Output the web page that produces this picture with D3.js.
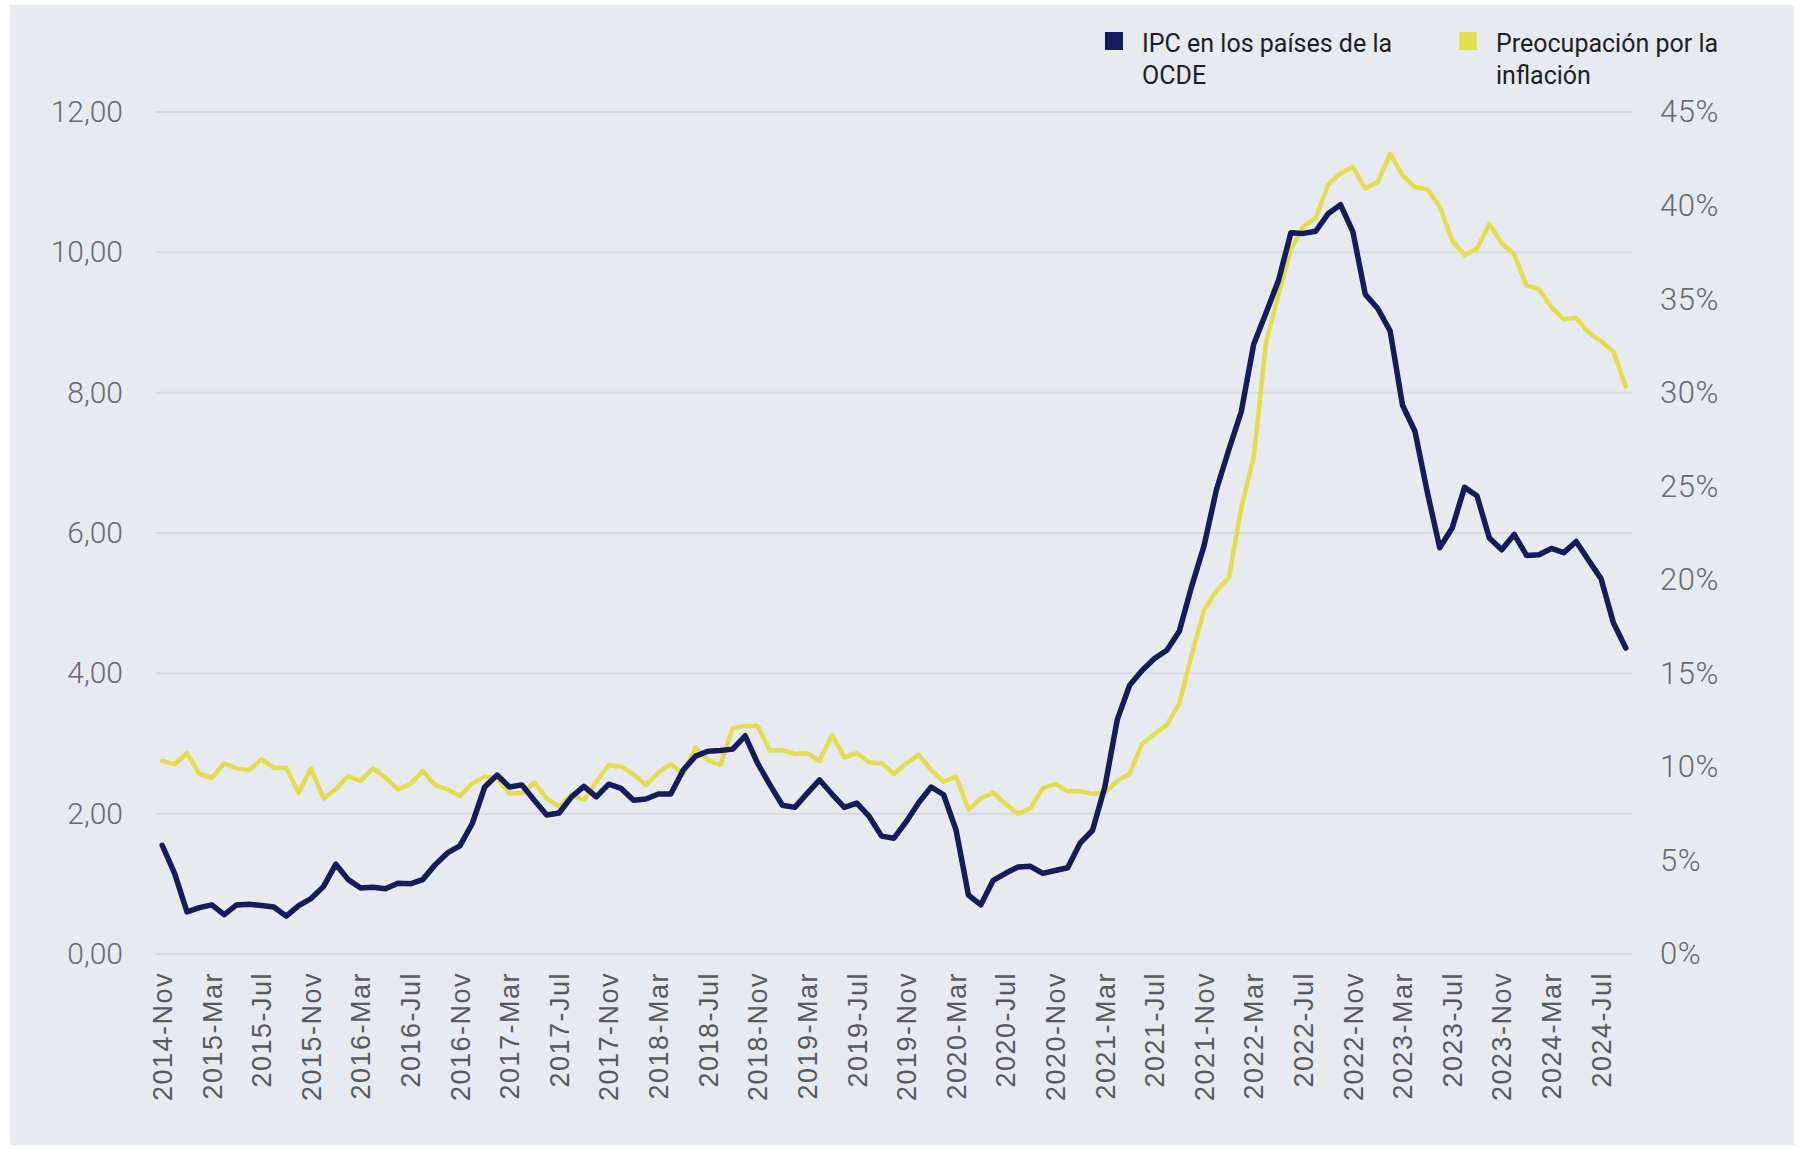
<!DOCTYPE html>
<html>
<head>
<meta charset="utf-8">
<script src="https://cdn.jsdelivr.net/npm/d3@7"></script>
<style>
  body { margin: 0; background: #fff; }
  svg { display: block; }
</style>
</head>
<body>
<div id="chart"></div>
<script>
const width = 1808;
const height = 1149;

// months from 2014-Nov to 2024-Sep
const monthNames = ["Jan", "Feb", "Mar", "Apr", "May", "Jun", "Jul", "Aug", "Sep", "Oct", "Nov", "Dec"];
const months = [];
for (let k = 0; k < 119; k++) {
    const m = (10 + k) % 12;
    const y = 2014 + Math.floor((10 + k) / 12);
    months.push(y + "-" + monthNames[m]);
}

const tickLabels = [
    "2014-Nov", "2015-Mar", "2015-Jul", "2015-Nov", "2016-Mar", "2016-Jul",
    "2016-Nov", "2017-Mar", "2017-Jul", "2017-Nov", "2018-Mar", "2018-Jul",
    "2018-Nov", "2019-Mar", "2019-Jul", "2019-Nov", "2020-Mar", "2020-Jul",
    "2020-Nov", "2021-Mar", "2021-Jul", "2021-Nov", "2022-Mar", "2022-Jul",
    "2022-Nov", "2023-Mar", "2023-Jul", "2023-Nov", "2024-Mar", "2024-Jul"
];

// IPC en los países de la OCDE (left axis)
const ipc = [
    1.55, 1.15, 0.60, 0.66, 0.70, 0.56, 0.70, 0.71, 0.69, 0.67,
    0.54, 0.69, 0.79, 0.96, 1.28, 1.06, 0.94, 0.95, 0.93, 1.01,
    1.00, 1.06, 1.27, 1.44, 1.54, 1.86, 2.38, 2.55, 2.38, 2.41,
    2.19, 1.98, 2.01, 2.24, 2.39, 2.24, 2.42, 2.36, 2.19, 2.21,
    2.28, 2.28, 2.62, 2.82, 2.89, 2.90, 2.92, 3.11, 2.72, 2.41,
    2.12, 2.09, 2.29, 2.48, 2.28, 2.09, 2.15, 1.96, 1.68, 1.65,
    1.89, 2.16, 2.38, 2.27, 1.77, 0.84, 0.70, 1.05, 1.15, 1.24,
    1.25, 1.15, 1.19, 1.23, 1.58, 1.76, 2.38, 3.34, 3.83, 4.04,
    4.21, 4.33, 4.60, 5.24, 5.82, 6.62, 7.19, 7.73, 8.69, 9.14,
    9.60, 10.28, 10.27, 10.30, 10.55, 10.68, 10.29, 9.40, 9.20, 8.88,
    7.82, 7.45, 6.58, 5.79, 6.07, 6.65, 6.53, 5.93, 5.76, 5.98,
    5.68, 5.69, 5.78, 5.72, 5.88, 5.61, 5.35, 4.72, 4.36
];

// Preocupación por la inflación, % (right axis)
const preocupacion = [
    10.32, 10.14, 10.73, 9.62, 9.42, 10.19, 9.92, 9.83, 10.40, 9.96,
    9.96, 8.62, 9.92, 8.32, 8.80, 9.51, 9.25, 9.92, 9.42, 8.80,
    9.07, 9.78, 9.03, 8.80, 8.44, 9.12, 9.48, 9.39, 8.59, 8.59,
    9.16, 8.32, 7.87, 8.50, 8.23, 9.21, 10.10, 10.01, 9.60, 9.03,
    9.69, 10.15, 9.62, 11.05, 10.37, 10.10, 12.06, 12.19, 12.19, 10.87,
    10.90, 10.69, 10.73, 10.33, 11.70, 10.51, 10.73, 10.25, 10.19, 9.62,
    10.19, 10.64, 9.83, 9.21, 9.48, 7.73, 8.32, 8.62, 8.02, 7.48,
    7.79, 8.86, 9.09, 8.70, 8.70, 8.56, 8.60, 9.25, 9.63, 11.24,
    11.75, 12.26, 13.38, 16.00, 18.38, 19.42, 20.12, 23.85, 26.56, 32.70,
    35.25, 37.67, 38.86, 39.35, 41.10, 41.73, 42.07, 40.91, 41.26, 42.77,
    41.61, 40.98, 40.87, 39.94, 38.13, 37.35, 37.70, 39.02, 37.97, 37.39,
    35.72, 35.54, 34.56, 33.92, 33.99, 33.22, 32.76, 32.18, 30.33
];

const leftTicks = [0, 2, 4, 6, 8, 10, 12];
const rightTicks = [0, 5, 10, 15, 20, 25, 30, 35, 40, 45];

const seriesNames = [["IPC en los países de la", "OCDE"], ["Preocupación por la", "inflación"]];
const seriesColors = ["#141c5b", "#e3dc50"];

const plotLeft = 156, plotRight = 1632, plotTop = 112, plotBottom = 954;

const svg = d3.select("#chart")
    .append("svg")
    .attr("width", width)
    .attr("height", height);

svg.append("rect")
    .attr("x", 10).attr("y", 5)
    .attr("width", 1784).attr("height", 1140)
    .attr("fill", "#e7eaef");

const x = d3.scaleBand().domain(months).range([plotLeft, plotRight]).padding(0);
const yLeft = d3.scaleLinear().domain([0, 12]).range([plotBottom, plotTop]);
const yRight = d3.scaleLinear().domain([0, 45]).range([plotBottom, plotTop]);

const cx = d => x(d) + x.bandwidth() / 2;

// gridlines
svg.append("g")
    .selectAll("line")
    .data(leftTicks)
    .enter()
    .append("line")
    .attr("x1", plotLeft).attr("x2", plotRight)
    .attr("y1", d => yLeft(d)).attr("y2", d => yLeft(d))
    .attr("stroke", "#d8d9dc")
    .attr("stroke-width", 2);

const numFont = "Roboto, sans-serif";

// left axis
const leftAxis = svg.append("g")
    .attr("transform", `translate(${plotLeft - 33},0)`)
    .call(d3.axisLeft(yLeft).tickValues(leftTicks).tickSize(0).tickPadding(0)
        .tickFormat(d => d3.format(".2f")(d).replace(".", ",")));
leftAxis.select(".domain").remove();
leftAxis.selectAll("text")
    .attr("fill", "#6a6a6a")
    .attr("font-family", numFont)
    .attr("font-weight", 300)
    .attr("font-size", 30);

// right axis
const rightAxis = svg.append("g")
    .attr("transform", `translate(${plotRight + 28},0)`)
    .call(d3.axisRight(yRight).tickValues(rightTicks).tickSize(0).tickPadding(0)
        .tickFormat(d => d + "%"));
rightAxis.select(".domain").remove();
rightAxis.selectAll("text")
    .attr("fill", "#6a6a6a")
    .attr("font-family", numFont)
    .attr("font-weight", 300)
    .attr("font-size", 31)
    .attr("letter-spacing", 0.5);

// x axis labels
const xAxis = svg.append("g")
    .attr("transform", `translate(0,${plotBottom})`)
    .call(d3.axisBottom(x).tickValues(tickLabels).tickSize(0).tickPadding(0));
xAxis.select(".domain").remove();
xAxis.selectAll("text")
    .attr("fill", "#5a5a5a")
    .attr("font-family", "'Liberation Sans', Arial, sans-serif")
    .attr("font-size", 27)
    .attr("letter-spacing", 1.5)
    .attr("text-anchor", "end")
    .attr("transform", "rotate(-90)")
    .attr("x", -18)
    .attr("y", 0)
    .attr("dy", "0.36em");

// lines
const ipcLine = d3.line()
    .x((d, i) => cx(months[i]))
    .y(d => yLeft(d));

const preLine = d3.line()
    .x((d, i) => cx(months[i]))
    .y(d => yRight(d));

svg.append("path")
    .datum(preocupacion)
    .attr("d", preLine)
    .attr("fill", "none")
    .attr("stroke", seriesColors[1])
    .attr("stroke-width", 4.5)
    .attr("stroke-linejoin", "round")
    .attr("stroke-linecap", "round");

svg.append("path")
    .datum(ipc)
    .attr("d", ipcLine)
    .attr("fill", "none")
    .attr("stroke", seriesColors[0])
    .attr("stroke-width", 5.5)
    .attr("stroke-linejoin", "round")
    .attr("stroke-linecap", "round");

// legend
const legendX = [1105, 1459];
seriesNames.forEach((lines, k) => {
    const g = svg.append("g").attr("transform", `translate(${legendX[k]},32)`);
    g.append("rect")
        .attr("width", 18).attr("height", 18)
        .attr("fill", seriesColors[k]);
    g.append("text")
        .attr("x", 37)
        .attr("y", 20)
        .attr("fill", "#1f1f1f")
        .attr("font-family", numFont)
        .attr("font-size", 25)
        .selectAll("tspan")
        .data(lines)
        .enter()
        .append("tspan")
        .attr("x", 37)
        .attr("dy", (d, i) => i === 0 ? 0 : 32)
        .text(d => d);
});
</script>
</body>
</html>
